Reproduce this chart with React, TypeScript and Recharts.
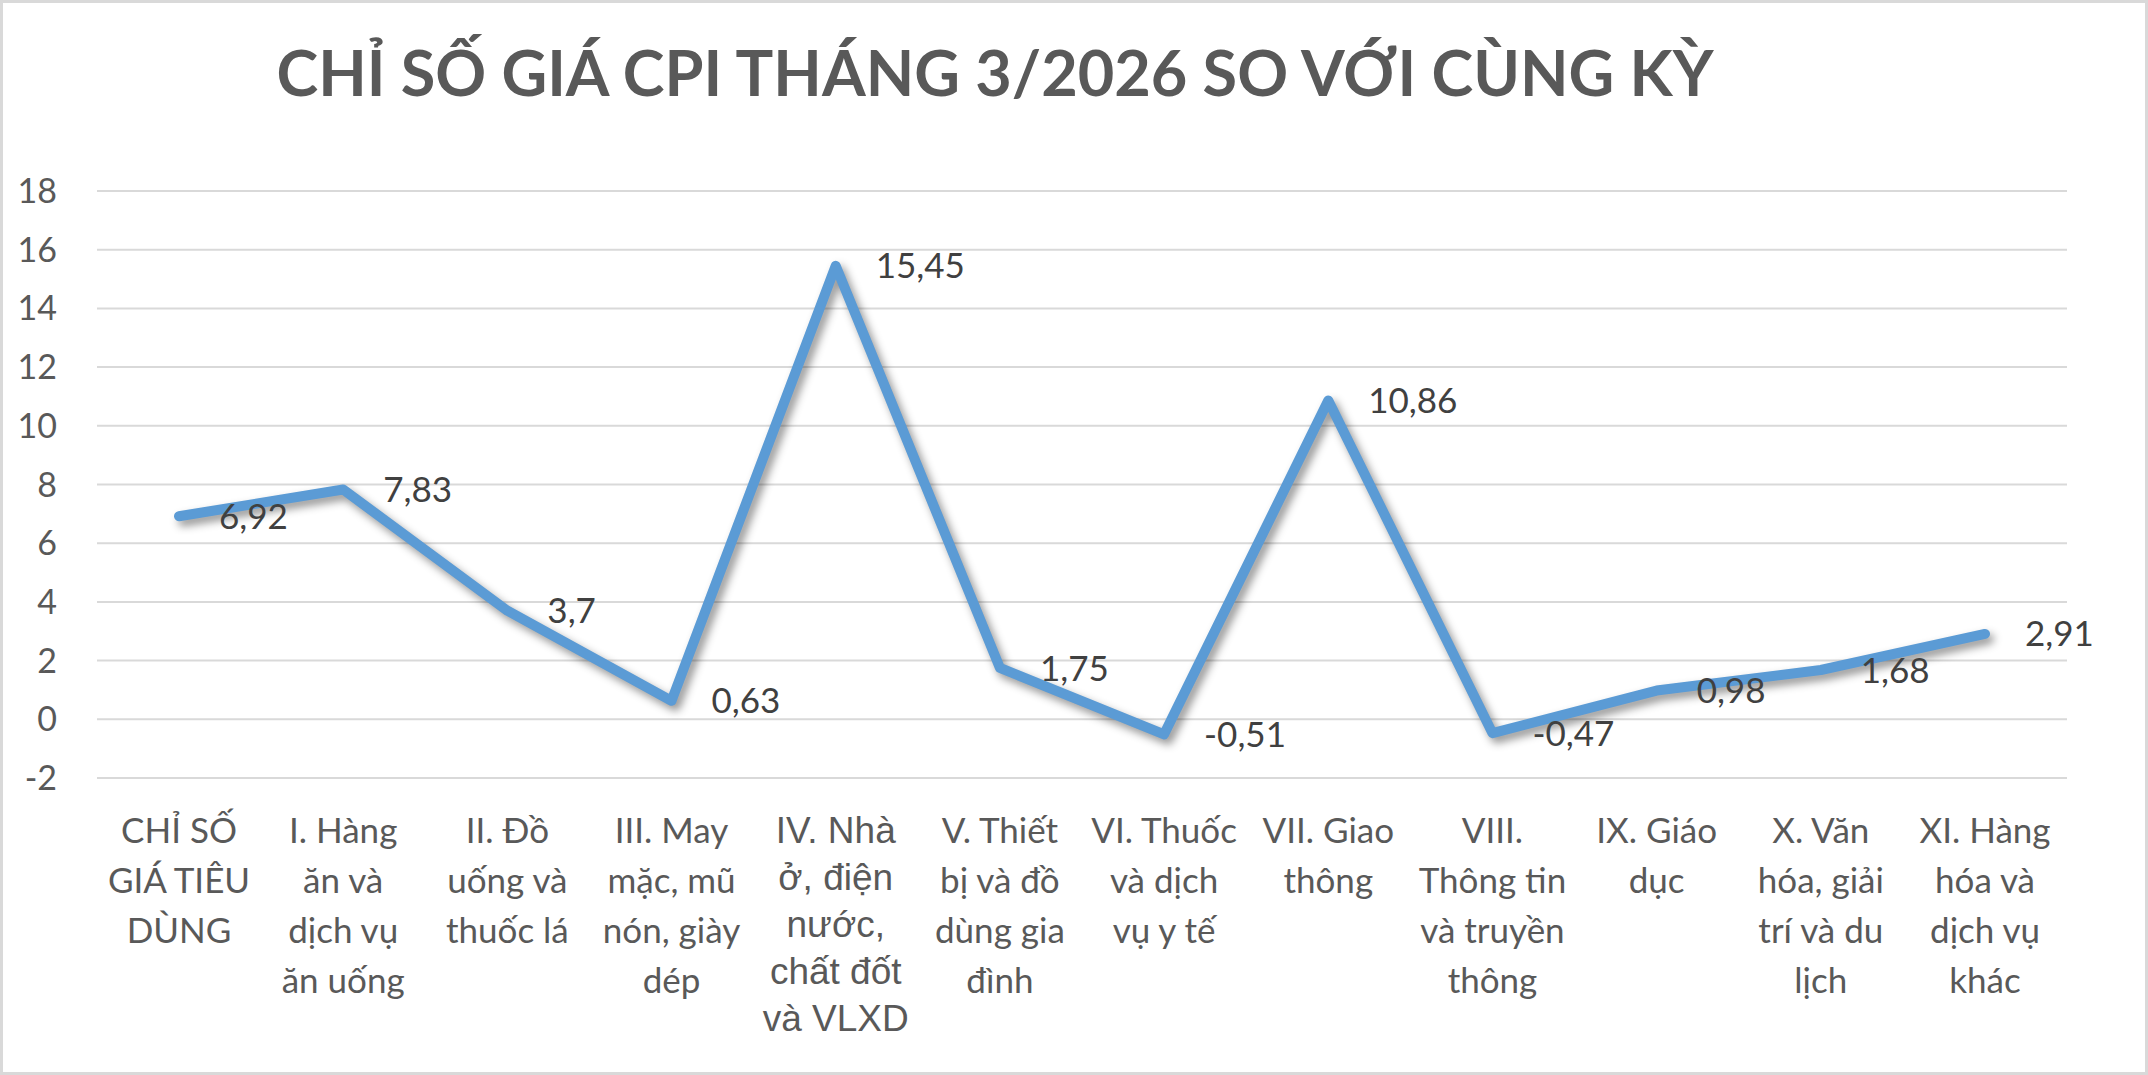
import React from 'react';
import { LineChart, Line, XAxis, YAxis, CartesianGrid, LabelList } from 'recharts';

const TITLE = 'CHỈ SỐ GIÁ CPI THÁNG 3/2026 SO VỚI CÙNG KỲ';

const categories: string[][] = [
  ['CHỈ SỐ', 'GIÁ TIÊU', 'DÙNG'],
  ['I. Hàng', 'ăn và', 'dịch vụ', 'ăn uống'],
  ['II. Đồ', 'uống và', 'thuốc lá'],
  ['III. May', 'mặc, mũ', 'nón, giày', 'dép'],
  ['IV. Nhà', 'ở, điện', 'nước,', 'chất đốt', 'và VLXD'],
  ['V. Thiết', 'bị và đồ', 'dùng gia', 'đình'],
  ['VI. Thuốc', 'và dịch', 'vụ y tế'],
  ['VII. Giao', 'thông'],
  ['VIII.', 'Thông tin', 'và truyền', 'thông'],
  ['IX. Giáo', 'dục'],
  ['X. Văn', 'hóa, giải', 'trí và du', 'lịch'],
  ['XI. Hàng', 'hóa và', 'dịch vụ', 'khác'],
];

const values: number[] = [6.92, 7.83, 3.7, 0.63, 15.45, 1.75, -0.51, 10.86, -0.47, 0.98, 1.68, 2.91];

const yTicks: number[] = [-2, 0, 2, 4, 6, 8, 10, 12, 14, 16, 18];

const data = categories.map((c, i) => ({ name: c.join('\n'), value: values[i] }));

const W = 2148;
const H = 1075;

const CatTick = (props: any) => {
  const { x, y, payload } = props;
  const lines = String(payload.value).split('\n');
  const special = lines[0].startsWith('IV.');
  const fontFamily = special ? '"Liberation Sans", Arial, sans-serif' : 'Lato, sans-serif';
  const fontSize = special ? 37 : 35;
  const lh = special ? 47 : 50;
  return (
    <text x={x} y={y} textAnchor="middle" fill="#595959" fontFamily={fontFamily} fontSize={fontSize}>
      {lines.map((l, i) => (
        <tspan key={i} x={x} y={y + 65 + i * lh}>
          {l}
        </tspan>
      ))}
    </text>
  );
};

const ValueLabel = (props: any) => {
  const { x, y, value } = props;
  if (x == null || y == null) return null;
  return (
    <text
      x={x + 40}
      y={y}
      dy="0.36em"
      textAnchor="start"
      fill="#404040"
      fontFamily="Lato, sans-serif"
      fontSize={35}
    >
      {String(value).replace('.', ',')}
    </text>
  );
};

export default function App() {
  return (
    <div
      style={{
        position: 'absolute',
        left: 0,
        top: 0,
        width: W,
        height: H,
        background: '#ffffff',
        overflow: 'hidden',
      }}
    >
      <style>{`.recharts-line-curve { filter: drop-shadow(4px 5px 4px rgba(0,0,0,0.42)); }`}</style>
      <div
        style={{
          position: 'absolute',
          left: 0,
          top: 0,
          width: W,
          height: H,
          boxSizing: 'border-box',
          border: '3px solid #d9d9d9',
          pointerEvents: 'none',
          zIndex: 2,
        }}
      />
      <svg width={W} height={130} style={{ position: 'absolute', left: 0, top: 0 }}>
        <text
          x={995}
          y={96}
          textAnchor="middle"
          fill="#595959"
          fontFamily="Lato, sans-serif"
          fontWeight={700}
          fontSize={63}
        >
          {TITLE}
        </text>
      </svg>
      <div style={{ position: 'absolute', left: 0, top: 0 }}>
        <LineChart width={W} height={H} data={data} margin={{ top: 191, right: 81, left: 0, bottom: 0 }}>
          <CartesianGrid vertical={false} stroke="#d9d9d9" strokeWidth={2} />
          <XAxis
            dataKey="name"
            axisLine={false}
            tickLine={false}
            tickSize={0}
            tickMargin={0}
            height={297}
            interval={0}
            padding={{ left: 82, right: 82 }}
            tick={<CatTick />}
          />
          <YAxis
            type="number"
            domain={[-2, 18]}
            ticks={yTicks}
            interval={0}
            width={97}
            axisLine={false}
            tickLine={false}
            tickSize={0}
            tickMargin={40}
            tick={{ fill: '#595959', fontSize: 34, fontFamily: 'Lato, sans-serif' }}
          />
          <Line
            type="linear"
            dataKey="value"
            stroke="#5b9bd5"
            strokeWidth={10}
            strokeLinecap="round"
            strokeLinejoin="round"
            dot={false}
            activeDot={false}
            isAnimationActive={false}
          >
            <LabelList dataKey="value" content={<ValueLabel />} />
          </Line>
        </LineChart>
      </div>
    </div>
  );
}
